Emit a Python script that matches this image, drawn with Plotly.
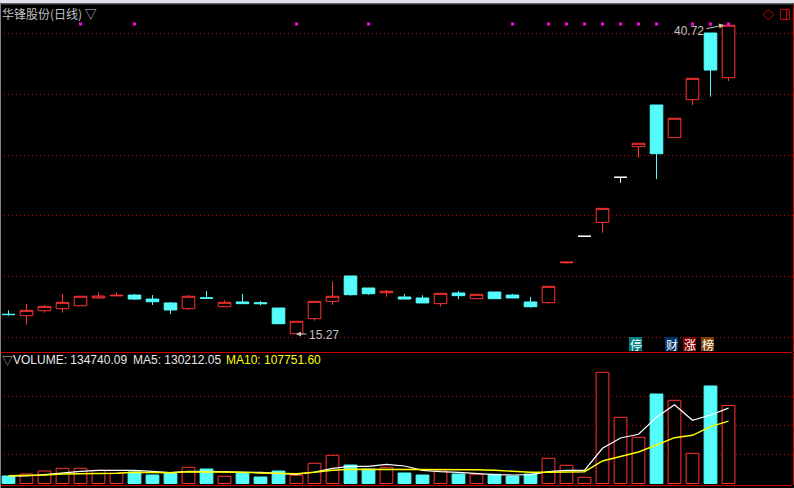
import plotly.graph_objects as go

W, H = 794, 488

title = "华锋股份(日线) ▽"
index = list(range(41))

opens = [16.90,16.78,17.19,17.36,17.60,18.24,18.41,18.48,18.15,17.83,17.36,18.25,17.52,17.91,17.85,17.41,15.30,16.53,17.96,20.05,19.06,18.67,18.32,18.24,17.77,18.65,18.18,18.73,18.48,17.91,17.85,21.14,23.32,24.47,28.18,30.70,34.13,31.44,34.57,40.06,36.38]
highs = [17.22,17.74,17.64,18.57,18.38,18.71,18.71,18.57,18.48,17.91,18.48,18.81,18.05,18.57,17.99,17.41,16.32,17.96,19.61,20.05,19.06,18.90,18.57,18.46,18.62,18.81,18.54,18.73,18.57,18.32,19.20,21.19,23.32,25.62,28.18,30.98,34.13,33.04,36.33,40.06,40.72]
lows = [16.78,16.04,17.03,17.03,17.60,18.15,18.41,18.07,17.66,16.92,17.27,18.15,17.52,17.77,17.64,16.12,15.27,16.37,17.68,18.43,18.51,18.34,18.15,17.83,17.52,18.15,18.18,18.18,18.24,17.44,17.77,21.08,23.32,23.61,27.73,29.79,28.04,31.44,34.13,34.82,36.11]
closes = [16.87,17.22,17.55,17.88,18.38,18.40,18.46,18.15,17.93,17.25,18.38,18.22,17.88,17.77,17.77,16.12,16.32,17.96,18.38,18.51,18.59,18.79,18.15,17.83,18.62,18.43,18.54,18.18,18.24,17.52,19.20,21.19,23.32,25.62,28.18,30.98,30.12,33.04,36.33,37.01,40.70]

flat_white_days = [32, 34]
signal_days = [4,7,16,20,28,30,31,32,33,34,35,36,38,39,40]
signal_level = 40.80

volume = [12950,16400,21600,26250,26250,22800,17600,19860,14680,17600,27980,25040,12430,17600,11230,21590,14160,34890,48700,31950,25040,27980,18130,14680,21590,16410,15890,15890,12950,16410,43520,31430,10710,192040,114330,79790,154570,143690,52160,168380,134740]
ma5 = [12950,12950,15200,18650,21070,22800,22800,22800,21070,18650,21070,21070,20380,19340,19340,17620,15890,19860,26250,29700,29700,33160,30220,22800,20380,19340,16920,15200,14680,15200,20380,22800,22800,60790,78580,84970,114330,136090,109150,118300,130212]
ma10 = [13470,13470,14680,16410,16410,17620,17620,19340,19340,18650,20380,20380,19860,19340,18130,17620,16920,19340,22800,24520,24520,24520,23830,23830,23830,23830,23830,22800,21070,19340,19340,19340,20380,38860,46280,54400,66490,79100,83240,98090,107752]
falling_days = [0,7,8,9,11,13,14,15,19,20,22,23,25,27,28,29,36,39]

price_ticks = [15,20,25,30,35,40]
volume_ticks = [50000,100000,150000]

BG = "#000000"
RED = "#ff3232"
CYAN = "#54fcfc"
FRAME = "#c80000"
GRID = "#c00000"
GREY = "#c0c0c0"
TEXT = "#e8e8e8"
YEL = "#ffff00"

def px(x): return x / W
def py(y): return 1 - y / H

main = [i for i in index if i not in flat_white_days]
fig = go.Figure()
fig.add_trace(go.Candlestick(
    x=main, open=[opens[i] for i in main], high=[highs[i] for i in main],
    low=[lows[i] for i in main], close=[closes[i] for i in main],
    increasing=dict(line=dict(color=RED, width=1), fillcolor=BG),
    decreasing=dict(line=dict(color=CYAN, width=1), fillcolor=CYAN),
    whiskerwidth=0, hoverinfo="skip", yaxis="y"))
fig.add_trace(go.Candlestick(
    x=flat_white_days, open=[opens[i] for i in flat_white_days], high=[highs[i] for i in flat_white_days],
    low=[lows[i] for i in flat_white_days], close=[closes[i] for i in flat_white_days],
    increasing=dict(line=dict(color="#ffffff", width=1), fillcolor=BG),
    decreasing=dict(line=dict(color="#ffffff", width=1), fillcolor=BG),
    whiskerwidth=0, hoverinfo="skip", yaxis="y"))
fig.add_trace(go.Scatter(
    x=signal_days, y=[signal_level] * len(signal_days), mode="markers",
    marker=dict(symbol="square", size=3, color="#ff00ff", line=dict(width=0)),
    hoverinfo="skip", yaxis="y"))

fig.add_trace(go.Bar(
    x=index, y=volume,
    marker=dict(color=[CYAN if i in falling_days else BG for i in index],
                line=dict(color=[CYAN if i in falling_days else RED for i in index], width=1)),
    hoverinfo="skip", yaxis="y2"))
fig.add_trace(go.Scatter(x=index, y=ma5, mode="lines", line=dict(color="#ffffff", width=1.2), hoverinfo="skip", yaxis="y2"))
fig.add_trace(go.Scatter(x=index, y=ma10, mode="lines", line=dict(color=YEL, width=1.4), hoverinfo="skip", yaxis="y2"))

def rect(x0, y0, x1, y1, fill, line=None):
    return dict(type="rect", xref="paper", yref="paper", x0=px(x0), x1=px(x1), y0=py(y0), y1=py(y1),
                fillcolor=fill, line=dict(color=line or fill, width=1 if line else 0), layer="above")

shapes = [
    rect(0, 0, W, 3.5, "#e0e1e8"),
    rect(0, 3.5, W, 4.5, "#505050"),
    rect(0, 4, 1, H, "#808080"),
    rect(1, 352, 792, 353, FRAME),
    rect(1, 485, 792, 486, FRAME),
    dict(type="path", xref="paper", yref="paper", layer="above",
         path=f"M {px(763)} {py(14.5)} L {px(768.5)} {py(9.5)} L {px(774)} {py(14.5)} L {px(768.5)} {py(20)} Z",
         line=dict(color=FRAME, width=1), fillcolor="rgba(0,0,0,0)"),
    rect(780.5, 9.5, 789.5, 19.5, "rgba(0,0,0,0)", FRAME),
    dict(type="line", xref="paper", yref="paper", x0=px(786.5), x1=px(786.5), y0=py(9.5), y1=py(19.5),
         line=dict(color=FRAME, width=1), layer="above"),
    rect(629, 337, 642, 351, "#008080"),
    rect(665, 337, 678, 351, "#003366"),
    rect(683, 337, 696, 351, "#800000"),
    rect(701, 337, 714, 351, "#804000"),
]

def label(x, y, text, color=TEXT, size=12, family="Liberation Sans", anchor="left"):
    return dict(xref="paper", yref="paper", x=px(x), y=py(y), text=text, showarrow=False, xanchor=anchor,
                yanchor="middle", font=dict(family=family, size=size, color=color), borderpad=0, borderwidth=0)

def arrow(x_tip, y_tip, x_tail, y_tail):
    return dict(xref="paper", yref="paper", x=px(x_tip), y=py(y_tip), ax=x_tail - x_tip, ay=y_tail - y_tip,
                axref="pixel", ayref="pixel", text="", showarrow=True, arrowhead=2, arrowsize=1,
                arrowwidth=1, arrowcolor=GREY)

cjk = "Noto Sans CJK SC"
annotations = [
    label(2, 14, title, GREY, 12, cjk),
    label(2, 360, "▽", GREY, 11, cjk),
    label(13, 360, "VOLUME: 134740.09"),
    label(133, 360, "MA5: 130212.05"),
    label(226, 360, "MA10: 107751.60", YEL),
    label(309, 335, "15.27", GREY),
    label(674, 31, "40.72", GREY),
    arrow(296, 334, 308, 334),
    arrow(724, 25, 705, 29),
    label(635.5, 344, "停", "#ffffff", 12, cjk, "center"),
    label(671.5, 344, "财", "#ffffff", 12, cjk, "center"),
    label(689.5, 344, "涨", "#ffffff", 12, cjk, "center"),
    label(707.5, 344, "榜", "#ffffff", 12, cjk, "center"),
]

def yaxis(domain, rng, ticks, minor, **kw):
    return dict(domain=domain, range=rng, side="right", tickvals=ticks, showticklabels=False,
                ticks="outside", ticklen=2, tickcolor=FRAME, tickwidth=1,
                minor=dict(dtick=minor, ticks="outside", ticklen=2, tickcolor=FRAME, tickwidth=1, showgrid=False),
                showgrid=True, gridcolor=GRID, gridwidth=1, griddash="1px,3px", zeroline=False,
                showline=True, linecolor=FRAME, linewidth=1, fixedrange=True, **kw)

fig.update_layout(
    width=W, height=H, margin=dict(l=0, r=0, t=0, b=0), autosize=False,
    paper_bgcolor=BG, plot_bgcolor=BG, showlegend=False, boxmode="overlay", boxgap=0.3, boxgroupgap=0, bargap=0.29,
    xaxis=dict(domain=[0, 792.5 / W], range=[-8.5 / 18, (792.5 - 8.5) / 18], anchor="y2",
               showgrid=False, zeroline=False, showticklabels=False, ticks="", showline=False,
               rangeslider=dict(visible=False), fixedrange=True),
    yaxis=yaxis([py(352), py(4)], [13.79, 42.45], price_ticks, 2.5, anchor="x"),
    yaxis2=yaxis([py(485.3), py(353)], [-3110, 225370], volume_ticks, 25000, anchor="x"),
    shapes=shapes, annotations=annotations,
)

fig.write_html("out.html", config=dict(displayModeBar=False, staticPlot=True),
               post_script="document.body.style.margin='0';document.body.style.overflow='hidden';")
